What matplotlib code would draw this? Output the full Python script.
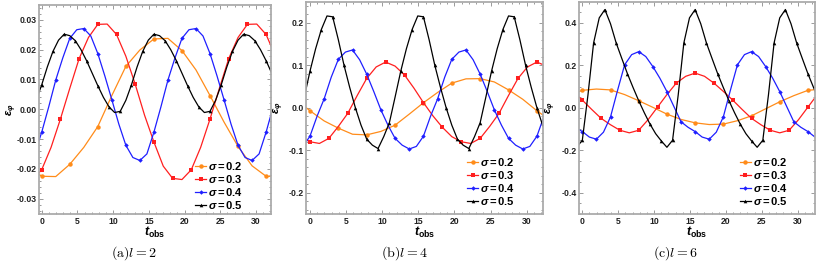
import numpy as np
import matplotlib
matplotlib.use("Agg")
import matplotlib.pyplot as plt
from matplotlib.ticker import MultipleLocator, FormatStrFormatter

plt.rcParams.update({
    'font.family': ['Liberation Sans', 'DejaVu Sans'],
    'mathtext.fontset': 'custom',
    'mathtext.rm': 'Liberation Sans',
    'mathtext.it': 'Liberation Sans:italic',
    'mathtext.bf': 'Liberation Sans:bold',
    'mathtext.bfit': 'Liberation Sans:bold:italic',
})

# ---- data: sigma values, each curve sampled every pi/(8*sigma), starting one step before t=0
sigmas = [0.2, 0.3, 0.4, 0.5]
legend_labels = [r"$\mathbfit{\sigma}\mathbf{=0.2}$", r"$\mathbfit{\sigma}\mathbf{=0.3}$",
                 r"$\mathbfit{\sigma}\mathbf{=0.4}$", r"$\mathbfit{\sigma}\mathbf{=0.5}$"]
captions = [r"$\mathrm{(a)}l=2$", r"$\mathrm{(b)}l=4$", r"$\mathrm{(c)}l=6$"]

# panel (a) l = 2
eps_l2_s02 = [-0.0190, -0.0225, -0.0226, -0.0185, -0.0128, -0.0058, 0.0046, 0.0144, 0.0199, 0.0236,
              0.0238, 0.0197, 0.0132, 0.0046, -0.0043, -0.0125, -0.0190, -0.0225, -0.0226]
eps_l2_s03 = [-0.0236, -0.0203, -0.0128, -0.0033, 0.0070, 0.0170, 0.0241, 0.0285, 0.0286, 0.0251,
              0.0178, 0.0084, -0.0020, -0.0110, -0.0191, -0.0232, -0.0236, -0.0203, -0.0128, -0.0033,
              0.0070, 0.0170, 0.0241, 0.0285, 0.0286, 0.0251, 0.0178]
eps_l2_s04 = [-0.0150, -0.0077, 0.0008, 0.0098, 0.0172, 0.0238, 0.0267, 0.0271, 0.0246, 0.0187,
              0.0112, 0.0032, -0.0050, -0.0121, -0.0162, -0.0172, -0.0150, -0.0077, 0.0008, 0.0098,
              0.0172, 0.0238, 0.0267, 0.0271, 0.0246, 0.0187, 0.0112, 0.0032, -0.0050, -0.0121,
              -0.0162, -0.0172, -0.0150, -0.0077, 0.0008, 0.0098]
eps_l2_s05 = [0.0030, 0.0082, 0.0142, 0.0194, 0.0232, 0.0252, 0.0247, 0.0230, 0.0200, 0.0163,
              0.0121, 0.0079, 0.0040, 0.0008, -0.0011, -0.0007, 0.0030, 0.0082, 0.0142, 0.0194,
              0.0232, 0.0252, 0.0247, 0.0230, 0.0200, 0.0163, 0.0121, 0.0079, 0.0040, 0.0008,
              -0.0011, -0.0007, 0.0030, 0.0082, 0.0142, 0.0194, 0.0232, 0.0252, 0.0247, 0.0230,
              0.0200, 0.0163, 0.0121, 0.0079]

# panel (b) l = 4
eps_l4_s02 = [0.0200, -0.0071, -0.0310, -0.0480, -0.0623, -0.0638, -0.0557, -0.0410, -0.0150, 0.0118,
              0.0360, 0.0580, 0.0680, 0.0685, 0.0607, 0.0420, 0.0200, -0.0071, -0.0310]
eps_l4_s03 = [-0.068, -0.080, -0.084, -0.072, -0.044, -0.013, 0.029, 0.069, 0.096, 0.1075,
              0.098, 0.077, 0.046, 0.012, -0.019, -0.046, -0.068, -0.080, -0.084, -0.072,
              -0.044, -0.013, 0.029, 0.069, 0.096, 0.1075, 0.098]
eps_l4_s04 = [-0.091, -0.067, -0.020, 0.021, 0.072, 0.114, 0.131, 0.136, 0.113, 0.079,
              0.038, -0.005, -0.041, -0.072, -0.088, -0.097, -0.091, -0.067, -0.020, 0.021,
              0.072, 0.114, 0.131, 0.136, 0.113, 0.079, 0.038, -0.005, -0.041, -0.072,
              -0.088, -0.097, -0.091, -0.067, -0.020, 0.021]
eps_l4_s05 = [0.025, 0.086, 0.139, 0.184, 0.216, 0.214, 0.160, 0.100, 0.048, 0.000,
              -0.041, -0.074, -0.088, -0.096, -0.068, -0.035, 0.025, 0.086, 0.139, 0.184,
              0.216, 0.214, 0.160, 0.100, 0.048, 0.000, -0.041, -0.074, -0.088, -0.096,
              -0.068, -0.035, 0.025, 0.086, 0.139, 0.184, 0.216, 0.214, 0.160, 0.100,
              0.048, 0.000, -0.041, -0.074]

# panel (c) l = 6
eps_l6_s02 = [0.057, 0.082, 0.088, 0.084, 0.062, 0.033, 0.002, -0.030, -0.055, -0.071,
              -0.079, -0.077, -0.061, -0.038, -0.005, 0.028, 0.057, 0.082, 0.088]
eps_l6_s03 = [0.077, 0.036, -0.008, -0.050, -0.080, -0.106, -0.118, -0.106, -0.056, 0.003,
              0.062, 0.116, 0.148, 0.163, 0.148, 0.116, 0.077, 0.036, -0.008, -0.050,
              -0.080, -0.106, -0.118, -0.106, -0.056, 0.003, 0.062]
eps_l6_s04 = [-0.092, -0.112, -0.138, -0.148, -0.115, -0.043, 0.082, 0.202, 0.250, 0.264,
              0.241, 0.194, 0.139, 0.076, 0.005, -0.066, -0.092, -0.112, -0.138, -0.148,
              -0.115, -0.043, 0.082, 0.202, 0.250, 0.264, 0.241, 0.194, 0.139, 0.076,
              0.005, -0.066, -0.092, -0.112, -0.138, -0.148]
eps_l6_s05 = [-0.186, -0.153, 0.060, 0.305, 0.423, 0.462, 0.395, 0.305, 0.232, 0.160,
              0.095, 0.033, -0.024, -0.077, -0.122, -0.156, -0.186, -0.153, 0.060, 0.305,
              0.423, 0.462, 0.395, 0.305, 0.232, 0.160, 0.095, 0.033, -0.024, -0.077,
              -0.122, -0.156, -0.186, -0.153, 0.060, 0.305, 0.423, 0.462, 0.395, 0.305,
              0.232, 0.160, 0.095, 0.033]

panel_series = [
    [eps_l2_s02, eps_l2_s03, eps_l2_s04, eps_l2_s05],
    [eps_l4_s02, eps_l4_s03, eps_l4_s04, eps_l4_s05],
    [eps_l6_s02, eps_l6_s03, eps_l6_s04, eps_l6_s05],
]

# ---- styles / layout
W, H = 817, 263
colors = ['#ff8c1a', '#ff1f1f', '#1f1fff', '#000000']
markers = ['o', 's', 'D', '^']
msizes = [3.2, 2.3, 2.3, 2.6]
frame_col = '#ababab'

# axes boxes in pixels: left, top, right, bottom
boxes = [(38.5, 5.0, 270.7, 213.5), (306.0, 1.5, 543.3, 214.0), (579.3, 1.5, 815.0, 214.0)]
xlims = [(-0.45, 32.06), (-0.55, 32.3), (-0.42, 32.4)]
ylims = [(-0.035, 0.035), (-0.25, 0.25), (-0.5, 0.5)]
ymajor = [0.01, 0.1, 0.2]
yminor = [0.002, 0.02, 0.05]
yfmt = ['%.2f', '%.1f', '%.1f']
leg_anchor = [(0.881, 0.012), (0.881, 0.032), (0.885, 0.032)]
ylab_x_px = [19.0, 286.0, 557.5]
cap_x_px = [134, 404, 676]

fig = plt.figure(figsize=(W / 100, H / 100), dpi=100)

for p in range(3):
    l, t, r, b = boxes[p]
    ax = fig.add_axes([l / W, (H - b) / H, (r - l) / W, (b - t) / H])
    for i, s in enumerate(sigmas):
        vals = panel_series[p][i]
        tt = np.arange(-1, len(vals) - 1) * np.pi / (8 * s)
        ax.plot(tt, vals, color=colors[i], lw=0.9, marker=markers[i], ms=msizes[i],
                markeredgewidth=0, markevery=slice(1, None, 2), label=legend_labels[i])
    ax.set_xlim(*xlims[p])
    ax.set_ylim(*ylims[p])
    ax.xaxis.set_major_locator(MultipleLocator(5))
    ax.xaxis.set_minor_locator(MultipleLocator(1))
    ax.yaxis.set_major_locator(MultipleLocator(ymajor[p]))
    ax.yaxis.set_minor_locator(MultipleLocator(yminor[p]))
    ax.yaxis.set_major_formatter(FormatStrFormatter(yfmt[p]))
    ax.tick_params(which='both', direction='in', top=True, right=True, color='#8a8a8a',
                   width=0.6, labelsize=6.2, labelcolor='#222222')
    ax.tick_params(which='major', length=3.2)
    ax.tick_params(which='minor', length=1.6)
    ax.tick_params(axis='y', pad=1.5)
    ax.tick_params(axis='x', pad=2.5)
    for lab in ax.get_xticklabels() + ax.get_yticklabels():
        lab.set_fontweight('bold')
    for sp in ax.spines.values():
        sp.set_color(frame_col)
        sp.set_linewidth(1.3)

    ax.set_xlabel(r"$\mathbfit{t}_{\mathbf{obs}}$", fontsize=9)
    ax.xaxis.set_label_coords(0.5, -(225 - b) / (b - t))
    ax.set_ylabel(r"$\mathbfit{\varepsilon}_{\mathbfit{\varphi}}$", fontsize=8)
    ax.yaxis.set_label_coords((ylab_x_px[p] - l) / (r - l), 0.5)

    ax.legend(loc='lower right', bbox_to_anchor=leg_anchor[p], frameon=False,
              fontsize=8, handlelength=1.05, handletextpad=0.15, labelspacing=0.1,
              borderpad=0, borderaxespad=0, numpoints=1)

    fig.text(cap_x_px[p] / W, (H - 253) / H, captions[p], ha='center', va='center',
             fontsize=10, math_fontfamily='cm')

fig.savefig('out.png', dpi=100)
